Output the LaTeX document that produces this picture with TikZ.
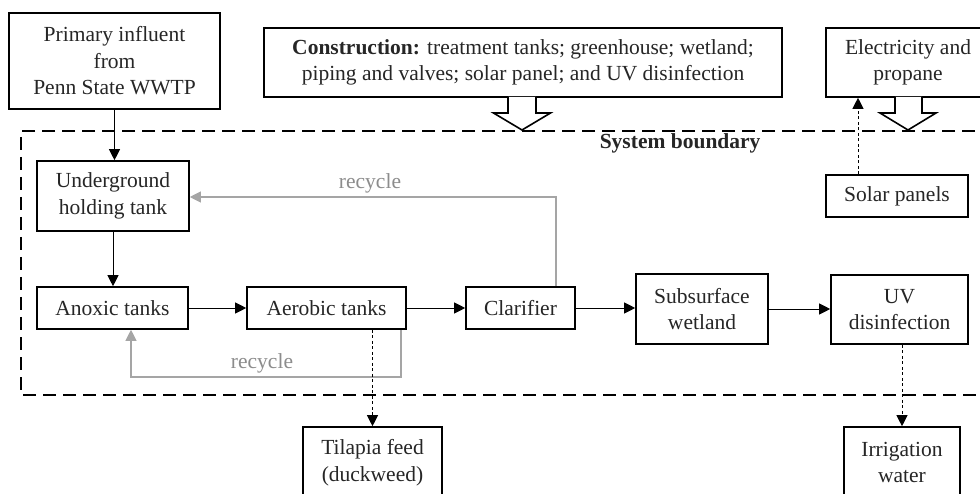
\documentclass[tikz,border=0pt]{standalone}
\usepackage{fontspec}
\setmainfont{Liberation Serif}
\usetikzlibrary{arrows.meta,calc}
\definecolor{recline}{RGB}{165,165,165}
\definecolor{rectext}{RGB}{140,140,140}
\tikzset{
  box/.style={draw=black, line width=1.6pt, fill=white, align=center, inner sep=0pt,
    font=\fontsize{21.5}{26.5}\selectfont, text=black!85},
  flow/.style={line width=0.9pt, -{Triangle[length=11pt,width=11pt]}},
  recflow/.style={draw=recline, line width=1.1pt, -{Triangle[length=11pt,width=11pt,fill=recline]}},
  outflow/.style={line width=0.9pt, dash pattern=on 3pt off 2.5pt, -{Triangle[length=11pt,width=11pt]}},
  hollow/.style={draw=black, line width=1.6pt, fill=white, line join=miter},
  boundary/.style={line width=1.6pt, dash pattern=on 13pt off 7pt},
  reclabel/.style={text=rectext, font=\fontsize{21.5}{26.5}\selectfont},
}
\begin{document}
\begin{tikzpicture}[x=1pt,y=-1pt]
\useasboundingbox (0,0) rectangle (980,494);
\clip (0,0) rectangle (980,494);
\fill[white] (0,0) rectangle (980,494);

% system boundary
\draw[boundary] (995,131) -- (21,131) -- (21,395) -- (995,395);
\node[anchor=east, font=\fontsize{21.5}{26.5}\selectfont\bfseries, text=black!85] (sb) at (764,143) {System boundary};

% top boxes
\node[box, minimum width=211pt, minimum height=96pt] (prim) at (114.5,61) {Primary influent\\from\\Penn State WWTP};
\node[box, minimum width=518pt, minimum height=69pt] (cons) at (523,62.5) {\textbf{Construction:} treatment tanks; greenhouse; wetland;\\piping and valves; solar panel; and UV disinfection};
\node[box, minimum width=164pt, minimum height=69pt] (elec) at (908,62.5) {Electricity and\\propane};

% hollow arrows
\draw[hollow] (508,97) -- (508,113) -- (493.5,113) -- (522,130) -- (550.5,113) -- (536,113) -- (536,97);
\draw[hollow] (895,97) -- (895,113) -- (880,113) -- (908,130) -- (936,113) -- (922,113) -- (922,97);

% inner boxes
\node[box, minimum width=152pt, minimum height=70pt] (ugt) at (113,196) {Underground\\holding tank};
\node[box, minimum width=142pt, minimum height=42pt] (solar) at (897,196) {Solar panels};
\node[box, minimum width=151pt, minimum height=42pt] (anox) at (112.5,308) {Anoxic tanks};
\node[box, minimum width=159pt, minimum height=42pt] (aero) at (326.5,308) {Aerobic tanks};
\node[box, minimum width=109pt, minimum height=42pt] (clar) at (520.5,308) {Clarifier};
\node[box, minimum width=132pt, minimum height=70pt] (wet) at (702,309) {Subsurface\\wetland};
\node[box, minimum width=137pt, minimum height=69pt] (uv) at (899.5,309.5) {UV\\disinfection};

% outputs
\node[box, minimum width=139pt, minimum height=71pt] (tilapia) at (372.5,462.5) {Tilapia feed\\(duckweed)};
\node[box, minimum width=116pt, minimum height=71pt] (irr) at (902,462.5) {Irrigation\\water};

% main flow
\draw[flow] (prim.south) -- (prim.south |- ugt.north);
\draw[flow] (ugt.south) -- (ugt.south |- anox.north);
\draw[flow] (anox.east) -- (aero.west);
\draw[flow] (aero.east) -- (clar.west);
\draw[flow] (clar.east) -- (clar.east -| wet.west);
\draw[flow] (wet.east) -- (wet.east -| uv.west);

% recycles
\coordinate (r1) at (556,197);
\draw[recflow] (clar.north -| r1) -- (r1) -- (ugt.east |- r1);
\node[reclabel] (rl1) at (370,183) {recycle};
\coordinate (r2a) at (401,377);
\coordinate (r2b) at (131,377);
\draw[recflow] (aero.south -| r2a) -- (r2a) -- (r2b) -- (anox.south -| r2b);
\node[reclabel] (rl2) at (262,363) {recycle};

% dashed outputs
\draw[outflow] (tilapia.north |- aero.south) -- (tilapia.north);
\draw[outflow] (irr.north |- uv.south) -- (irr.north);
\coordinate (s1) at (858,0);
\draw[outflow] (solar.north -| s1) -- (elec.south -| s1);
\end{tikzpicture}
\end{document}
